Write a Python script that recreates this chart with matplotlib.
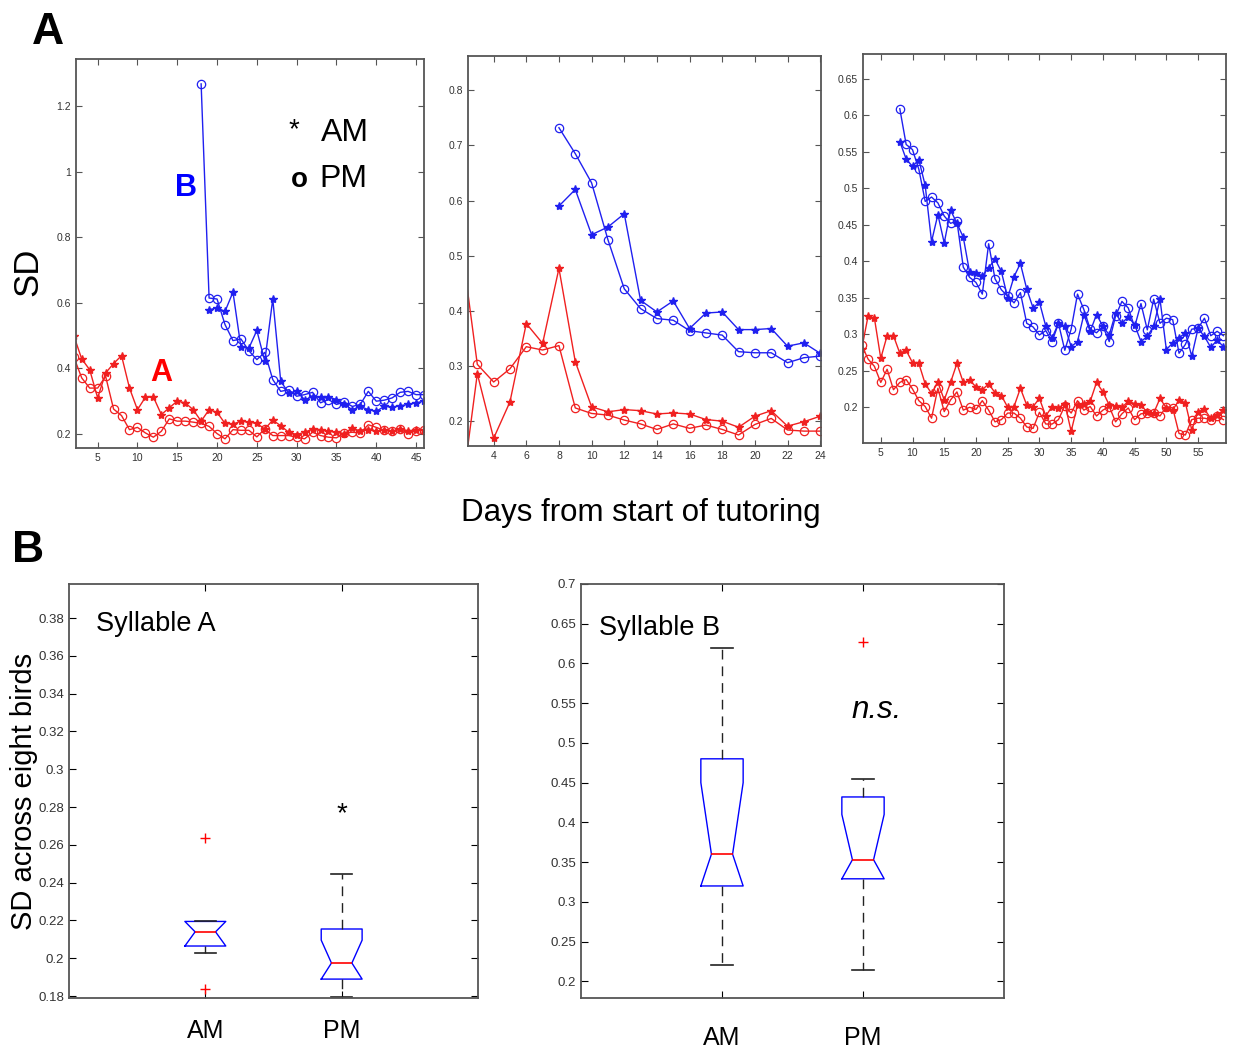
import numpy as np
import matplotlib
matplotlib.use("Agg")
import matplotlib.pyplot as plt

plt.rcParams['font.family'] = ['Liberation Sans', 'DejaVu Sans']

# ---- panel A, bird 1 ----
p1_red_days = np.arange(2, 47)
p1_red_am = [0.50, 0.429, 0.396, 0.31, 0.386, 0.415, 0.439, 0.34, 0.274, 0.312,
             0.313, 0.259, 0.28, 0.30, 0.295, 0.274, 0.239, 0.274, 0.266, 0.232,
             0.23, 0.239, 0.236, 0.232, 0.215, 0.242, 0.225, 0.205, 0.198, 0.205,
             0.215, 0.213, 0.208, 0.205, 0.201, 0.218, 0.208, 0.213, 0.208, 0.212,
             0.209, 0.214, 0.21, 0.211, 0.212]
p1_red_pm = [0.435, 0.371, 0.34, 0.34, 0.376, 0.276, 0.256, 0.213, 0.22, 0.203,
             0.19, 0.208, 0.246, 0.239, 0.239, 0.236, 0.232, 0.223, 0.201, 0.185,
             0.213, 0.211, 0.211, 0.191, 0.215, 0.195, 0.195, 0.195, 0.19, 0.185,
             0.205, 0.195, 0.19, 0.188, 0.203, 0.205, 0.203, 0.228, 0.22, 0.211,
             0.208, 0.215, 0.201, 0.21, 0.211]
p1_blue_pm_days = np.arange(18, 47)
p1_blue_pm = [1.269, 0.615, 0.612, 0.534, 0.485, 0.49, 0.454, 0.427, 0.449, 0.366,
              0.33, 0.335, 0.315, 0.32, 0.327, 0.295, 0.305, 0.29, 0.297, 0.284,
              0.29, 0.33, 0.3, 0.303, 0.31, 0.327, 0.33, 0.32, 0.32]
p1_blue_am_days = np.arange(19, 47)
p1_blue_am = [0.579, 0.585, 0.574, 0.633, 0.465, 0.462, 0.516, 0.422, 0.612, 0.361,
              0.325, 0.33, 0.305, 0.313, 0.313, 0.313, 0.305, 0.29, 0.274, 0.284,
              0.274, 0.269, 0.284, 0.282, 0.286, 0.29, 0.295, 0.3]

# ---- panel A, bird 2 ----
p2_red_days = np.arange(2, 25)
p2_red_am = [0.06, 0.286, 0.169, 0.235, 0.377, 0.341, 0.477, 0.308, 0.226, 0.217,
             0.221, 0.219, 0.213, 0.215, 0.213, 0.203, 0.2, 0.189, 0.209, 0.219,
             0.191, 0.199, 0.209]
p2_red_pm = [0.527, 0.303, 0.271, 0.295, 0.335, 0.329, 0.337, 0.224, 0.214, 0.211,
             0.202, 0.195, 0.185, 0.195, 0.187, 0.193, 0.185, 0.175, 0.194, 0.205,
             0.184, 0.182, 0.182]
p2_blue_days = np.arange(8, 25)
p2_blue_pm = [0.732, 0.685, 0.632, 0.529, 0.44, 0.404, 0.386, 0.383, 0.364, 0.36,
              0.356, 0.326, 0.324, 0.324, 0.306, 0.315, 0.318]
p2_blue_am = [0.59, 0.62, 0.538, 0.552, 0.576, 0.419, 0.398, 0.418, 0.368, 0.396,
              0.398, 0.366, 0.366, 0.368, 0.336, 0.342, 0.323]

# ---- panel A, bird 3 ----
p3_red_days = np.arange(2, 60)
p3_red_am = [0.28, 0.325, 0.322, 0.267, 0.298, 0.298, 0.274, 0.278, 0.261, 0.26, 0.232,
             0.219, 0.234, 0.21, 0.234, 0.26, 0.234, 0.237, 0.228, 0.224, 0.232,
             0.22, 0.216, 0.2, 0.201, 0.226, 0.203, 0.201, 0.212, 0.188, 0.201,
             0.199, 0.205, 0.167, 0.203, 0.205, 0.208, 0.234, 0.221, 0.203, 0.202,
             0.2, 0.208, 0.205, 0.203, 0.193, 0.192, 0.212, 0.199, 0.196, 0.21,
             0.206, 0.169, 0.194, 0.197, 0.185, 0.189, 0.196]
p3_red_pm = [0.285, 0.266, 0.256, 0.234, 0.252, 0.224, 0.234, 0.238, 0.225, 0.209, 0.201,
             0.185, 0.226, 0.194, 0.21, 0.221, 0.196, 0.2, 0.197, 0.209, 0.196,
             0.18, 0.183, 0.192, 0.192, 0.185, 0.173, 0.171, 0.193, 0.177, 0.177,
             0.183, 0.202, 0.192, 0.209, 0.196, 0.201, 0.188, 0.196, 0.201, 0.18,
             0.191, 0.199, 0.183, 0.191, 0.192, 0.192, 0.188, 0.201, 0.199, 0.164,
             0.162, 0.183, 0.185, 0.185, 0.183, 0.188, 0.183]
p3_blue_days = np.arange(8, 60)
p3_blue_pm = [0.609, 0.56, 0.553, 0.526, 0.482, 0.488, 0.48, 0.462, 0.452, 0.455,
              0.392, 0.378, 0.371, 0.355, 0.424, 0.376, 0.361, 0.352, 0.343, 0.357,
              0.315, 0.31, 0.299, 0.305, 0.29, 0.315, 0.278, 0.307, 0.355, 0.334,
              0.307, 0.302, 0.311, 0.29, 0.325, 0.345, 0.336, 0.31, 0.342, 0.306,
              0.348, 0.315, 0.322, 0.32, 0.274, 0.286, 0.307, 0.308, 0.322, 0.298,
              0.304, 0.298]
p3_blue_am = [0.564, 0.54, 0.53, 0.539, 0.504, 0.427, 0.464, 0.425, 0.47, 0.452,
              0.433, 0.385, 0.384, 0.38, 0.391, 0.403, 0.386, 0.35, 0.379, 0.397,
              0.362, 0.336, 0.344, 0.311, 0.295, 0.315, 0.311, 0.283, 0.29, 0.327,
              0.304, 0.327, 0.311, 0.299, 0.329, 0.315, 0.324, 0.313, 0.29, 0.297,
              0.311, 0.348, 0.279, 0.288, 0.295, 0.302, 0.27, 0.308, 0.297, 0.282,
              0.292, 0.283]

# ---- panel B box stats: [AM, PM] ----
box_labels = ['AM', 'PM']
a_q1 = [0.2065, 0.189]
a_med = [0.214, 0.1975]
a_q3 = [0.2195, 0.2155]
a_whislo = [0.203, 0.1795]
a_whishi = [0.2197, 0.2445]
a_cihi = [0.2195, 0.2096]
a_fliers = [[0.2635, 0.1835], []]

b_q1 = [0.32, 0.329]
b_med = [0.36, 0.353]
b_q3 = [0.48, 0.432]
b_whislo = [0.22, 0.214]
b_whishi = [0.62, 0.455]
b_cihi = [0.45, 0.41]
b_fliers = [[], [0.627]]

RED = '#f02020'
BLUE = '#2020f0'

fig = plt.figure(figsize=(12.4, 10.48), dpi=100)
W, H = 1240.0, 1048.0


def add_ax(left, top, right, bottom):
    return fig.add_axes([left / W, 1 - bottom / H, (right - left) / W, (bottom - top) / H])


def style_line_ax(ax):
    ax.tick_params(direction='in', top=True, right=True, labelsize=7.5,
                   labelcolor='#333333', length=4, color='#555555')
    for s in ax.spines.values():
        s.set_color('#555555')
        s.set_linewidth(1.3)


def draw_bird(ax, rd, ram, rpm, bd_pm, bpm, bd_am, bam):
    ax.plot(rd, ram, '-*', color=RED, lw=1, ms=6)
    ax.plot(rd, rpm, '-o', color=RED, lw=1, ms=6, mfc='none', mew=0.9)
    ax.plot(bd_pm, bpm, '-o', color=BLUE, lw=1, ms=6, mfc='none', mew=0.9)
    ax.plot(bd_am, bam, '-*', color=BLUE, lw=1, ms=6)


ax1 = add_ax(76, 59, 424, 448)
draw_bird(ax1, p1_red_days, p1_red_am, p1_red_pm, p1_blue_pm_days, p1_blue_pm,
          p1_blue_am_days, p1_blue_am)
ax1.set_xlim(2.28, 46.0)
ax1.set_ylim(0.157, 1.345)
ax1.set_xticks(range(5, 46, 5))
ax1.set_yticks([0.2, 0.4, 0.6, 0.8, 1.0, 1.2])
ax1.set_yticklabels(['0.2', '0.4', '0.6', '0.8', '1', '1.2'])
style_line_ax(ax1)
ax1.text(16.1, 0.95, 'B', color='blue', fontsize=22, fontweight='bold', ha='center', va='center')
ax1.text(13.0, 0.385, 'A', color='red', fontsize=22, fontweight='bold', ha='center', va='center')
ax1.text(29.7, 1.127, '*', fontsize=20, ha='center', va='center')
ax1.text(33.0, 1.12, 'AM', fontsize=23, ha='left', va='center')
ax1.text(30.3, 0.975, 'o', fontsize=20, fontweight='bold', ha='center', va='center')
ax1.text(32.8, 0.979, 'PM', fontsize=23, ha='left', va='center')

ax2 = add_ax(468, 56, 821, 446)
draw_bird(ax2, p2_red_days, p2_red_am, p2_red_pm, p2_blue_days, p2_blue_pm,
          p2_blue_days, p2_blue_am)
ax2.set_xlim(2.43, 24.05)
ax2.set_ylim(0.155, 0.862)
ax2.set_xticks(range(4, 25, 2))
ax2.set_yticks([0.2, 0.3, 0.4, 0.5, 0.6, 0.7, 0.8])
style_line_ax(ax2)

ax3 = add_ax(863, 54, 1226, 443)
draw_bird(ax3, p3_red_days, p3_red_am, p3_red_pm, p3_blue_days, p3_blue_pm,
          p3_blue_days, p3_blue_am)
ax3.set_xlim(2.2, 59.4)
ax3.set_ylim(0.151, 0.684)
ax3.set_xticks(range(5, 56, 5))
ax3.set_yticks([0.2, 0.25, 0.3, 0.35, 0.4, 0.45, 0.5, 0.55, 0.6, 0.65])
ax3.set_yticklabels(['0.2', '0.25', '0.3', '0.35', '0.4', '0.45', '0.5', '0.55', '0.6', '0.65'])
style_line_ax(ax3)


def box_stats(q1, med, q3, lo, hi, cihi, fliers):
    out = []
    for i in range(2):
        out.append(dict(med=med[i], q1=q1[i], q3=q3[i], whislo=lo[i], whishi=hi[i],
                        cilo=q1[i], cihi=cihi[i], fliers=fliers[i], label=box_labels[i]))
    return out


def draw_box(ax, stats, pad):
    ax.bxp(stats, positions=[1, 2], widths=0.3, shownotches=True, showfliers=True,
           boxprops=dict(color='blue', lw=1),
           medianprops=dict(color='red', lw=1.2),
           whiskerprops=dict(color='#222222', lw=1, linestyle=(0, (7, 5))),
           capprops=dict(color='#222222', lw=1.2),
           flierprops=dict(marker='+', markeredgecolor='red', markersize=7, mew=1))
    ax.set_xlim(0, 3)
    ax.tick_params(axis='x', direction='in', top=True, labelsize=18, pad=pad, length=5)
    ax.tick_params(axis='y', direction='in', right=True, labelsize=9.5,
                   labelcolor='#333333', length=5)
    for s in ax.spines.values():
        s.set_color('#555555')
        s.set_linewidth(1.3)


axa = add_ax(69, 584, 478, 998)
draw_box(axa, box_stats(a_q1, a_med, a_q3, a_whislo, a_whishi, a_cihi, a_fliers), 15)
axa.set_ylim(0.179, 0.398)
axa.set_yticks(np.arange(0.18, 0.381, 0.02))
axa.set_yticklabels(['0.18', '0.2', '0.22', '0.24', '0.26', '0.28', '0.3',
                     '0.32', '0.34', '0.36', '0.38'])
axa.text(0.2, 0.3768, 'Syllable A', fontsize=19.5, ha='left', va='center')
axa.text(2.0, 0.276, '*', fontsize=20, ha='center', va='center')
axa.set_ylabel('SD across eight birds', fontsize=21, labelpad=0)

axb = add_ax(581, 584, 1004, 998)
draw_box(axb, box_stats(b_q1, b_med, b_q3, b_whislo, b_whishi, b_cihi, b_fliers), 20)
axb.set_ylim(0.179, 0.7)
axb.set_yticks(np.arange(0.2, 0.701, 0.05))
axb.set_yticklabels(['0.2', '0.25', '0.3', '0.35', '0.4', '0.45', '0.5', '0.55',
                     '0.6', '0.65', '0.7'])
axb.text(0.13, 0.644, 'Syllable B', fontsize=19.5, ha='left', va='center')
axb.text(2.1, 0.541, 'n.s.', fontsize=22.5, style='italic', ha='center', va='center')

fig.text(48 / W, 1 - 33 / H, 'A', fontsize=32, fontweight='bold', ha='center', va='center')
fig.text(28 / W, 1 - 551 / H, 'B', fontsize=32, fontweight='bold', ha='center', va='center')
fig.text(28 / W, 1 - 272 / H, 'SD', fontsize=25, rotation=90, ha='center', va='center')
fig.text(641 / W, 1 - 513 / H, 'Days from start of tutoring', fontsize=22.5,
         ha='center', va='center')

fig.savefig('out.png', dpi=100)
